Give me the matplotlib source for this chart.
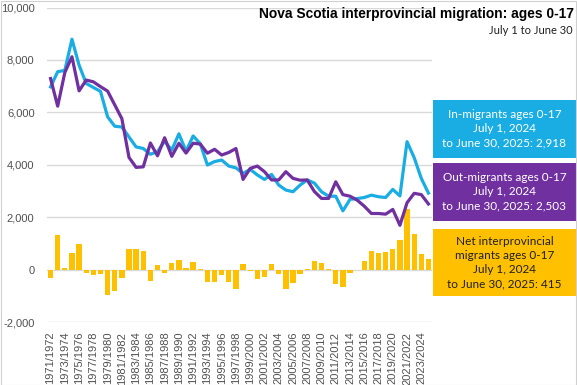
import matplotlib
matplotlib.use("Agg")
import matplotlib.pyplot as plt
from matplotlib.patches import Rectangle

years = [f"{y}/{y + 1}" for y in range(1971, 2025)]

in_migrants = [6970, 7550, 7600, 8790, 7800, 7100, 6950, 6800, 5830, 5470,
               5440, 5060, 4680, 4620, 4400, 4500, 4900, 4560, 5180, 4520,
               5100, 4800, 3990, 4120, 4180, 3950, 3880, 3670, 3825, 3610,
               3440, 3630, 3225, 3035, 2970, 3225, 3420, 3300, 2970, 2800,
               2800, 2240, 2680, 2710, 2750, 2840, 2780, 2750, 3060, 2810,
               4880, 4270, 3480, 2918]
out_migrants = [7290, 6235, 7520, 8120, 6820, 7230, 7165, 6980, 6810, 6285,
                5760, 4280, 3900, 3920, 4830, 4340, 5030, 4320, 4820, 4445,
                4820, 4790, 4440, 4590, 4370, 4470, 4620, 3440, 3860, 3950,
                3735, 3420, 3420, 3735, 3480, 3410, 3420, 2980, 2715, 2715,
                3350, 2860, 2800, 2650, 2420, 2140, 2140, 2115, 2295, 1690,
                2550, 2910, 2860, 2503]
net_migrants = [-320, 1313, 77, 640, 970, -130, -215, -180, -980, -815,
                -320, 780, 780, 700, -430, 165, -130, 240, 357, 77,
                285, 10, -470, -470, -190, -470, -740, 200, -50, -360,
                -280, 200, -165, -740, -510, -180, 10, 320, 255, 40,
                -560, -660, -130, -15, 320, 700, 640, 660, 780, 1120,
                2330, 1360, 590, 415]

BLUE = "#1AADE4"
PURPLE = "#7030A0"
GOLD = "#FFC000"

plt.rcParams["font.family"] = ["Liberation Sans", "DejaVu Sans"]

W, H = 577, 385
fig = plt.figure(figsize=(W / 100, H / 100), dpi=100)
ax = fig.add_axes([47 / W, 1 - 322 / H, (432 - 47) / W, (322 - 7.5) / H])

x = list(range(len(years)))
ax.bar(x, net_migrants, width=0.75, color=GOLD, zorder=2)
ax.plot(x, in_migrants, color=BLUE, lw=2.3, zorder=3, solid_joinstyle="round")
ax.plot(x, out_migrants, color=PURPLE, lw=2.3, zorder=4, solid_joinstyle="round")

ax.set_xlim(-0.5, len(years) - 0.5)
ax.set_ylim(-2000, 10000)
ax.set_yticks(range(-2000, 10001, 2000))
ax.set_yticklabels([f"{v:,}" for v in range(-2000, 10001, 2000)])
ax.set_xticks(x[::2])
ax.set_xticklabels(years[::2], rotation=90)
ax.tick_params(axis="both", length=0, labelsize=8, colors="#505050")
ax.tick_params(axis="y", pad=9)
ax.tick_params(axis="x", pad=7)
ax.grid(axis="y", color="#D9D9D9", lw=1, zorder=0)
for s in ax.spines.values():
    s.set_visible(False)

# title + subtitle
fig.text(574 / W, 1 - 14 / H, "Nova Scotia interprovincial migration: ages 0-17",
         ha="right", va="center", fontsize=9.9, fontweight="bold",
         family=["Liberation Sans Narrow", "Liberation Sans"], color="black")
fig.text(573 / W, 1 - 31 / H, "July 1 to June 30", ha="right", va="center",
         fontsize=8, family=["Lato", "DejaVu Sans"], color="#202020")

# value boxes on the right
boxes = [
    (100, 158, BLUE, "white", "In-migrants ages 0-17\nJuly 1, 2024\nto June 30, 2025: 2,918"),
    (163, 221, PURPLE, "white", "Out-migrants ages 0-17\nJuly 1, 2024\nto June 30, 2025: 2,503"),
    (229, 296, GOLD, "#202020",
     "Net interprovincial\nmigrants ages 0-17\nJuly 1, 2024\nto June 30, 2025: 415"),
]
for top, bottom, fc, tc, txt in boxes:
    fig.add_artist(Rectangle((433 / W, 1 - bottom / H), (576 - 433) / W, (bottom - top) / H,
                             transform=fig.transFigure, facecolor=fc, edgecolor="none"))
    fig.text(504.5 / W, 1 - (top + bottom) / 2 / H, txt, ha="center", va="center",
             fontsize=8.5, color=tc, family=["Lato", "DejaVu Sans"], linespacing=1.35)

# light border round the figure
fig.add_artist(Rectangle((0.5 / W, 0.5 / H), (W - 1.5) / W, (H - 1.5) / H,
                         transform=fig.transFigure, facecolor="none",
                         edgecolor="#D0D0D0", lw=0.8))

fig.savefig("out.png", dpi=100)
